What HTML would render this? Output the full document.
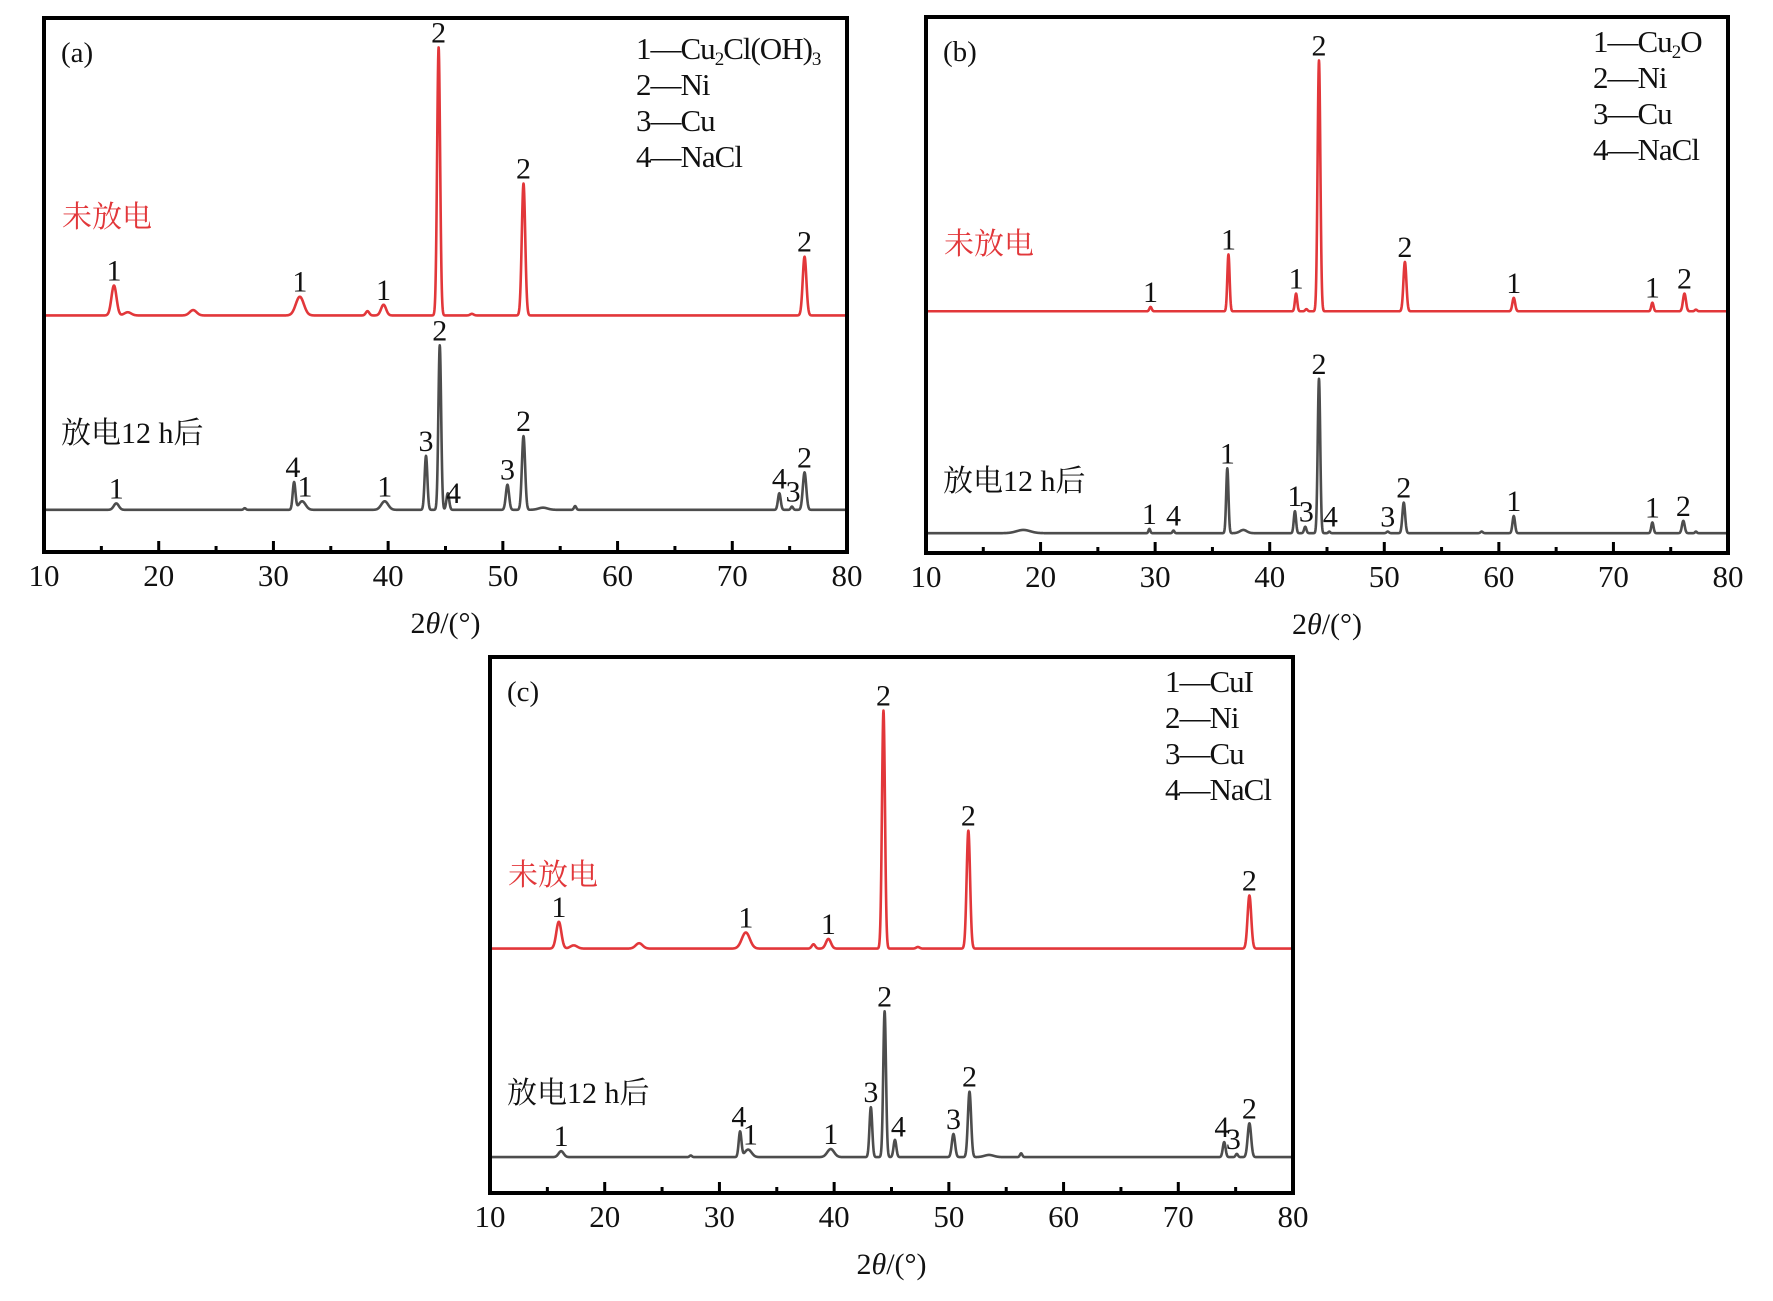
<!DOCTYPE html>
<html><head><meta charset="utf-8">
<style>
html,body{margin:0;padding:0;background:#fff;}
svg{display:block;}
text{font-family:"Liberation Serif","Noto Serif CJK SC",serif;}
.cn{font-family:"Liberation Serif","Noto Serif CJK SC",serif;}
</style></head>
<body>
<svg id="fig" width="1773" height="1301" viewBox="0 0 1773 1301" xmlns="http://www.w3.org/2000/svg"></svg>
<script>
// ---------- Panel (a) data ----------
const aRedPos = [16.1, 17.3, 23.0, 32.3, 38.2, 39.6, 44.4, 47.3, 51.8, 76.3];
const aRedH   = [5.6, 0.6, 1.0, 3.5, 0.8, 2.0, 50.2, 0.3, 24.7, 11.0];
const aRedW   = [0.22, 0.3, 0.3, 0.35, 0.15, 0.22, 0.13, 0.15, 0.15, 0.16];
const aBlkPos = [16.3, 27.5, 31.8, 32.5, 39.7, 43.3, 44.5, 45.2, 50.4, 51.8, 53.5, 56.3, 74.1, 75.2, 76.3];
const aBlkH   = [1.2, 0.3, 5.1, 1.6, 1.6, 10.1, 30.8, 3.1, 4.7, 13.8, 0.4, 0.7, 3.1, 0.6, 7.0];
const aBlkW   = [0.22, 0.1, 0.12, 0.3, 0.3, 0.12, 0.12, 0.12, 0.14, 0.14, 0.4, 0.1, 0.12, 0.1, 0.15];
const aRedLabels = [[16.1,"1"],[32.3,"1"],[39.6,"1"],[44.4,"2"],[51.8,"2"],[76.3,"2"]];
const aBlkLabels = [[16.3,"1"],[31.7,"4"],[32.75,"1"],[39.7,"1"],[43.3,"3"],[44.5,"2"],[45.7,"4"],[50.4,"3"],[51.8,"2"],[74.1,"4"],[75.3,"3"],[76.3,"2"]];
const aLegend = ["1—Cu<tspan font-size='19' dy='6'>2</tspan><tspan dy='-6'>Cl(OH)</tspan><tspan font-size='19' dy='6'>3</tspan>","2—Ni","3—Cu","4—NaCl"];

// ---------- Panel (b) data ----------
const bRedPos = [29.6, 36.4, 42.3, 43.2, 44.3, 51.8, 61.3, 73.4, 76.2, 77.2];
const bRedH   = [0.8, 10.6, 3.3, 0.4, 46.8, 9.2, 2.5, 1.6, 3.3, 0.3];
const bRedW   = [0.1, 0.1, 0.1, 0.1, 0.12, 0.13, 0.12, 0.1, 0.13, 0.1];
const bBlkPos = [18.5, 29.5, 31.6, 36.3, 37.7, 42.2, 43.1, 44.3, 45.2, 50.3, 51.7, 58.5, 61.3, 73.4, 76.1, 77.2];
const bBlkH   = [0.6, 0.8, 0.5, 12.1, 0.6, 4.1, 1.2, 28.8, 0.3, 0.3, 5.7, 0.3, 3.2, 2.0, 2.3, 0.3];
const bBlkW   = [0.6, 0.08, 0.08, 0.1, 0.3, 0.1, 0.1, 0.11, 0.08, 0.1, 0.12, 0.1, 0.11, 0.1, 0.12, 0.08];
const bRedLabels = [[29.6,"1"],[36.4,"1"],[42.3,"1"],[44.3,"2"],[51.8,"2"],[61.3,"1"],[73.4,"1"],[76.2,"2"]];
const bBlkLabels = [[29.5,"1"],[31.6,"4"],[36.3,"1"],[42.2,"1"],[43.2,"3"],[45.3,"4"],[50.3,"3"],[51.7,"2"],[44.3,"2"],[61.3,"1"],[73.4,"1"],[76.1,"2"]];
const bLegend = ["1—Cu<tspan font-size='19' dy='6'>2</tspan><tspan dy='-6'>O</tspan>","2—Ni","3—Cu","4—NaCl"];

// ---------- Panel (c) data ----------
const cRedPos = [16.0, 17.3, 23.0, 32.3, 38.2, 39.5, 44.3, 47.3, 51.7, 76.2];
const cRedH   = [5.0, 0.6, 1.0, 3.0, 0.8, 1.8, 44.4, 0.3, 22.0, 9.9];
const cRedW   = [0.22, 0.3, 0.3, 0.35, 0.15, 0.22, 0.13, 0.15, 0.15, 0.16];
const cBlkPos = [16.2, 27.5, 31.8, 32.5, 39.7, 43.2, 44.4, 45.3, 50.4, 51.8, 53.5, 56.3, 74.0, 75.1, 76.2];
const cBlkH   = [1.1, 0.3, 4.7, 1.4, 1.5, 9.3, 27.2, 3.2, 4.3, 12.2, 0.4, 0.7, 2.8, 0.6, 6.3];
const cBlkW   = [0.22, 0.1, 0.12, 0.3, 0.3, 0.12, 0.12, 0.12, 0.14, 0.14, 0.4, 0.1, 0.12, 0.1, 0.15];
const cRedLabels = [[16.0,"1"],[32.3,"1"],[39.5,"1"],[44.3,"2"],[51.7,"2"],[76.2,"2"]];
const cBlkLabels = [[16.2,"1"],[31.7,"4"],[32.7,"1"],[39.7,"1"],[43.2,"3"],[44.4,"2"],[45.6,"4"],[50.4,"3"],[51.8,"2"],[73.8,"4"],[74.8,"3"],[76.2,"2"]];
const cLegend = ["1—CuI","2—Ni","3—Cu","4—NaCl"];

const xTicks = [10,20,30,40,50,60,70,80];
const xMinor = [15,25,35,45,55,65,75];

const NS = "http://www.w3.org/2000/svg";
const svg = document.getElementById("fig");
function mk(tag, attrs, parent){
  const e = document.createElementNS(NS, tag);
  for (const k in attrs) e.setAttribute(k, attrs[k]);
  (parent||svg).appendChild(e);
  return e;
}

function panel(cfg){
  const g = mk("g",{});
  
  
  const xs = v => cfg.x0 + (v - 10) / 70 * (cfg.x1 - cfg.x0);
  const ys = v => cfg.bottom - v / 100 * (cfg.bottom - cfg.top);
  function curve(pos, h, w, base, color, name){
    let d = "";
    for (let x = 10; x <= 79.98; x += 0.02){
      let y = base;
      for (let i = 0; i < pos.length; i++){
        const z = (x - pos[i]) / w[i];
        if (Math.abs(z) < 8) y += h[i] * Math.exp(-0.5 * z * z);
      }
      d += (d ? "L" : "M") + xs(x).toFixed(2) + "," + ys(y).toFixed(2);
    }
    const p = mk("path",{d:d, fill:"none", stroke:color, "stroke-width":2.6, "stroke-linejoin":"round"}, g);
    
    
  }
  function peakTop(pos,h,w,base,x){
    let y = base;
    for (let i=0;i<pos.length;i++){ const z=(x-pos[i])/w[i]; y += h[i]*Math.exp(-0.5*z*z); }
    return y;
  }
  curve(cfg.rp, cfg.rh, cfg.rw, cfg.rBase, "#e2373a", "red-pattern-undischarged");
  curve(cfg.bp, cfg.bh, cfg.bw, cfg.bBase, "#4d4d4d", "black-pattern-discharged");
  function labels(list, pos, h, w, base, name){
    list.forEach(l => {
      let top = base;
      for (let dx=-0.25; dx<=0.25; dx+=0.05) top = Math.max(top, peakTop(pos,h,w,base,l[0]+dx));
      const t = mk("text",{x:xs(l[0]), y:ys(top)-5, "text-anchor":"middle", "font-size":30, fill:"#111"}, g);
      t.textContent = l[1];
      
      
    });
  }
  labels(cfg.rl, cfg.rp, cfg.rh, cfg.rw, cfg.rBase, "peak-label-red");
  labels(cfg.bl, cfg.bp, cfg.bh, cfg.bw, cfg.bBase, "peak-label-black");
  const fr = mk("rect",{x:cfg.x0, y:cfg.top, width:cfg.x1-cfg.x0, height:cfg.bottom-cfg.top, fill:"none", stroke:"#000", "stroke-width":4}, g);
  
  
  xTicks.forEach(v => {
    const tk = mk("line",{x1:xs(v), x2:xs(v), y1:cfg.bottom, y2:cfg.bottom-11, stroke:"#000", "stroke-width":3}, g);
    
    
    const t = mk("text",{x:xs(v), y:cfg.bottom+34, "text-anchor":"middle", "font-size":31, fill:"#111"}, g);
    t.textContent = v;
    
    
  });
  xMinor.forEach(v => {
    const tk = mk("line",{x1:xs(v), x2:xs(v), y1:cfg.bottom, y2:cfg.bottom-6, stroke:"#000", "stroke-width":3}, g);
    
    
  });
  const at = mk("text",{x:(cfg.x0+cfg.x1)/2, y:cfg.bottom+81, "text-anchor":"middle", "font-size":30, fill:"#111"}, g);
  at.innerHTML = "2<tspan font-style='italic'>θ</tspan>/(°)";
  
  
  const pl = mk("text",{x:cfg.x0+17, y:cfg.top+44, "font-size":29, fill:"#111"}, g);
  pl.textContent = "(" + cfg.id + ")";
  
  
  cfg.leg.forEach((s,i) => {
    const t = mk("text",{x:cfg.legX, y:cfg.legY + i*36, "font-size":31, "letter-spacing":"-1", fill:"#111"}, g);
    t.innerHTML = s;
    
    
  });
  const r = mk("text",{x:cfg.x0+18, y:cfg.redTxtY, "font-size":30, class:"cn", style:"fill:#e2373a"}, g);
  r.textContent = "未放电";
  
  
  const b = mk("text",{x:cfg.x0+17, y:cfg.blkTxtY, "font-size":30, class:"cn", style:"fill:#111"}, g);
  b.innerHTML = "放电12 h后";
  
  
}

panel({id:"a", x0:44, x1:847, top:18, bottom:552,
  rp:aRedPos, rh:aRedH, rw:aRedW, rBase:44.3, bp:aBlkPos, bh:aBlkH, bw:aBlkW, bBase:7.9,
  rl:aRedLabels, bl:aBlkLabels, leg:aLegend, legX:636, legY:59, redTxtY:227, blkTxtY:443});
panel({id:"b", x0:926, x1:1728, top:17, bottom:553,
  rp:bRedPos, rh:bRedH, rw:bRedW, rBase:45.1, bp:bBlkPos, bh:bBlkH, bw:bBlkW, bBase:3.7,
  rl:bRedLabels, bl:bBlkLabels, leg:bLegend, legX:1593, legY:52, redTxtY:254, blkTxtY:491});
panel({id:"c", x0:490, x1:1293, top:657, bottom:1193,
  rp:cRedPos, rh:cRedH, rw:cRedW, rBase:45.6, bp:cBlkPos, bh:cBlkH, bw:cBlkW, bBase:6.7,
  rl:cRedLabels, bl:cBlkLabels, leg:cLegend, legX:1165, legY:692, redTxtY:885, blkTxtY:1103});
</script>
</body></html>
